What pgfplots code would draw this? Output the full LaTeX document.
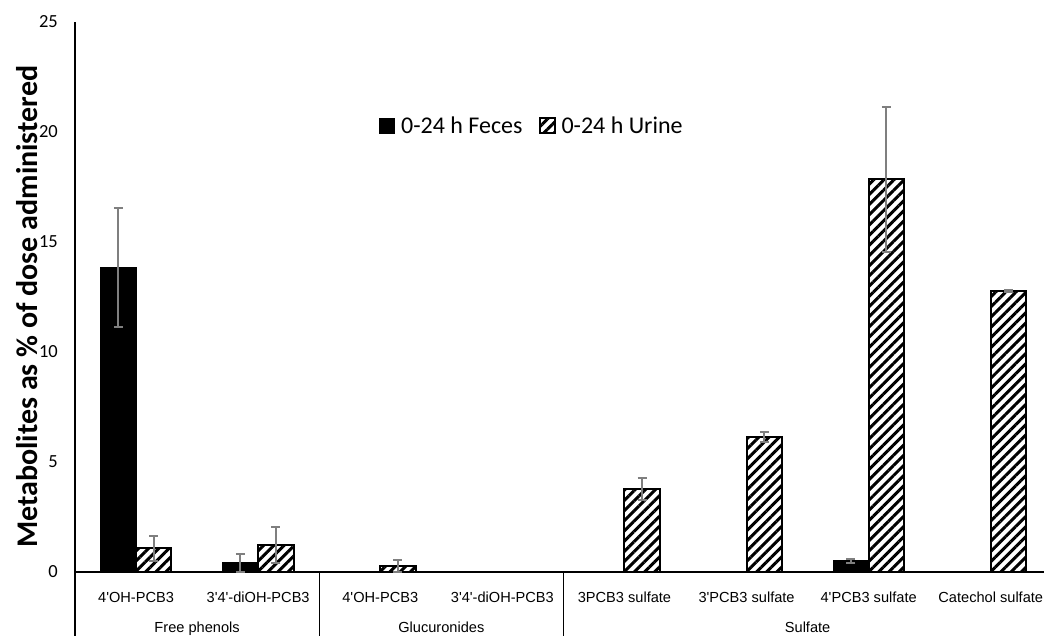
\documentclass[border=0pt]{standalone}
\usepackage{fontspec}
\setmainfont{Carlito}
\newfontfamily\arial{Liberation Sans}
\usepackage{pgfplots}
\pgfplotsset{compat=1.18}
\usetikzlibrary{patterns.meta}
\definecolor{errgray}{HTML}{7F7F7F}

\begin{document}
\begin{tikzpicture}
\begin{axis}[
  scale only axis, width=969pt, height=550pt,
  xmin=-0.5, xmax=7.436, ymin=0, ymax=25,
  axis x line*=bottom, axis y line*=left,
  axis line style={line width=1.2pt},
  clip=false,
  ytick={0,5,...,25}, xtick={0,...,7},
  xticklabels={4'OH-PCB3, 3'4'-diOH-PCB3, 4'OH-PCB3, 3'4'-diOH-PCB3, 3PCB3 sulfate, 3'PCB3 sulfate, 4'PCB3 sulfate, Catechol sulfate},
  major tick length=0pt,
  /pgf/number format/assume math mode=true,
  yticklabel style={font=\fontsize{18.5}{21}\selectfont, inner sep=0pt, anchor=east, xshift=-17pt},
  xticklabel style={font=\arial\fontsize{14.6}{17}\selectfont, inner sep=0pt, anchor=base, yshift=-31pt},
  ylabel={Metabolites as \% of dose administered},
  ylabel style={font=\fontsize{30}{35}\selectfont\bfseries, at={(axis description cs:-0.0495,0.482)}, anchor=center},
  legend style={at={(axis description cs:0.4715,0.811)}, anchor=center, draw=none, fill=none,
    legend columns=2, font=\fontsize{24}{29}\selectfont, inner sep=0pt,
    /tikz/every odd column/.append style={column sep=4pt},
    /tikz/every even column/.append style={column sep=14pt}},
  legend cell align=left,
]
\addplot[ybar, bar width=0.29, bar shift=0, fill=black, draw=black, line width=1pt,
  legend image code/.code={\draw[fill=black, draw=black, line width=1pt] (0pt,-7.5pt) rectangle (15pt,7.5pt);},
  error bars/.cd, y dir=both, y explicit,
  error bar style={draw=errgray, line width=2pt},
  error mark options={rotate=90, mark size=4.5pt, line width=2pt, draw=errgray}]
  coordinates {(-0.145,13.85) +- (0,2.7) (0.855,0.42) +- (0,0.4) (5.855,0.5) +- (0,0.08)};
\addlegendentry{0-24 h Feces}
\addplot[ybar, bar width=0.29, bar shift=0, draw=black, line width=2pt,
  pattern={Lines[angle=45,distance=7.2pt,line width=3pt]},
  legend image code/.code={\draw[draw=black, line width=2pt, pattern={Lines[angle=45,distance=7.2pt,line width=3pt]}] (0pt,-7.5pt) rectangle (15pt,7.5pt);},
  error bars/.cd, y dir=both, y explicit,
  error bar style={draw=errgray, line width=2pt},
  error mark options={rotate=90, mark size=4.5pt, line width=2pt, draw=errgray}]
  coordinates {(0.145,1.07) +- (0,0.57) (1.145,1.23) +- (0,0.8) (2.145,0.28) +- (0,0.27)
               (4.145,3.77) +- (0,0.5) (5.145,6.14) +- (0,0.22) (6.145,17.85) +- (0,3.3) (7.145,12.79) +- (0,0.05)};
\addlegendentry{0-24 h Urine}
\draw[line width=1.2pt] (axis cs:-0.5,0) -- ([yshift=-70pt]axis cs:-0.5,0);
\draw[line width=1.2pt] (axis cs:1.5,0) -- ([yshift=-70pt]axis cs:1.5,0);
\draw[line width=1.2pt] (axis cs:3.5,0) -- ([yshift=-70pt]axis cs:3.5,0);
\node[font=\arial\fontsize{14.6}{17}\selectfont, anchor=base, inner sep=0pt] at ([yshift=-61pt]axis cs:0.5,0) {Free phenols};
\node[font=\arial\fontsize{14.6}{17}\selectfont, anchor=base, inner sep=0pt] at ([yshift=-61pt]axis cs:2.5,0) {Glucuronides};
\node[font=\arial\fontsize{14.6}{17}\selectfont, anchor=base, inner sep=0pt] at ([yshift=-61pt]axis cs:5.5,0) {Sulfate};
\end{axis}
\pgfresetboundingbox
\useasboundingbox ([shift={(-75pt,-64pt)}]current axis.south west) rectangle ([shift={(0pt,22pt)}]current axis.north east);
\end{tikzpicture}
\end{document}
